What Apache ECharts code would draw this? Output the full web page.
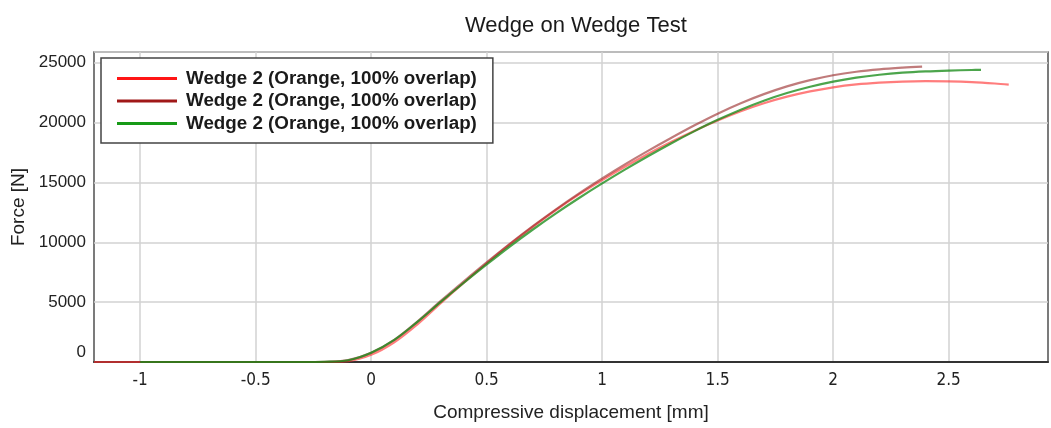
<!DOCTYPE html>
<html>
<head>
<meta charset="utf-8">
<script src="https://cdn.jsdelivr.net/npm/echarts@6/dist/echarts.min.js"></script>
<style>html,body{margin:0;padding:0;background:#fff}#c{width:1051px;height:428px}</style>
</head>
<body>
<div id="c"></div>
<script>
const seriesNames = ['Wedge 2 (Orange, 100% overlap)', 'Wedge 2 (Orange, 100% overlap)', 'Wedge 2 (Orange, 100% overlap)'];
const xTicks = [-1, -0.5, 0, 0.5, 1, 1.5, 2, 2.5];

const redX = [-1.2, -0.8, -0.4, -0.3, -0.2, -0.1, 0, 0.1, 0.2, 0.3, 0.4, 0.5, 0.6, 0.7, 0.8, 0.9, 1.0, 1.1, 1.2, 1.3, 1.4, 1.5, 1.6, 1.7, 1.8, 1.9, 2.0, 2.1, 2.2, 2.3, 2.4, 2.5, 2.6, 2.7, 2.76];
const redY = [0, 0, 0, 0, 0, 80, 600, 1650, 3150, 4900, 6600, 8250, 9820, 11300, 12700, 14000, 15200, 16330, 17400, 18400, 19330, 20180, 20950, 21620, 22170, 22610, 22950, 23190, 23340, 23430, 23460, 23440, 23380, 23270, 23180];

const brownX = [-1.0, -0.7, -0.4, -0.3, -0.2, -0.1, 0, 0.1, 0.2, 0.3, 0.4, 0.5, 0.6, 0.7, 0.8, 0.9, 1.0, 1.1, 1.2, 1.3, 1.4, 1.5, 1.6, 1.7, 1.8, 1.9, 2.0, 2.1, 2.2, 2.3, 2.385];
const brownY = [0, 0, 0, 0, 20, 150, 770, 1850, 3380, 5080, 6720, 8320, 9870, 11350, 12760, 14090, 15340, 16530, 17660, 18740, 19780, 20750, 21620, 22380, 23030, 23550, 23960, 24250, 24450, 24590, 24680];

const greenX = [-1.0, -0.7, -0.4, -0.3, -0.2, -0.1, 0, 0.1, 0.2, 0.3, 0.4, 0.5, 0.6, 0.7, 0.8, 0.9, 1.0, 1.1, 1.2, 1.3, 1.4, 1.5, 1.6, 1.7, 1.8, 1.9, 2.0, 2.1, 2.2, 2.3, 2.4, 2.5, 2.6, 2.64];
const greenY = [0, 0, 0, 0, 20, 150, 780, 1850, 3350, 5000, 6600, 8150, 9650, 11070, 12420, 13700, 14920, 16090, 17210, 18280, 19290, 20230, 21080, 21830, 22470, 23000, 23430, 23760, 24000, 24170, 24280, 24350, 24395, 24405];

function pairs(xs, ys) { return xs.map((x, i) => [x, ys[i]]); }

// distinct internal keys so the legend lists all three identical labels
const keys = seriesNames.map((n, i) => n + '\u200b'.repeat(i));
const lineColors = ['rgba(255,45,45,0.62)', 'rgba(150,35,35,0.6)', 'rgba(25,140,25,0.78)'];
const legendColors = ['#ff1515', '#a01818', '#179a17'];
const dataSets = [pairs(redX, redY), pairs(brownX, brownY), pairs(greenX, greenY)];

const chart = echarts.init(document.getElementById('c'));
chart.setOption({
  animation: false,
  backgroundColor: '#fff',
  title: {
    text: 'Wedge on Wedge Test',
    left: 460, top: 10,
    textStyle: { fontFamily: 'Liberation Sans, Arial, sans-serif', fontSize: 22, fontWeight: 'normal', color: '#1a1a1a' }
  },
  grid: { left: 94, right: 3, top: 52, bottom: 66, show: true, borderColor: '#505050', borderWidth: 1.5, backgroundColor: 'transparent' },
  legend: {
    orient: 'vertical', left: 101, top: 58,
    padding: [11, 16, 10, 16], itemGap: 3.5,
    itemWidth: 60, itemHeight: 3, icon: 'rect',
    backgroundColor: '#fff', borderColor: '#444', borderWidth: 1.5, borderRadius: 0,
    selectedMode: false,
    textStyle: { fontFamily: 'Liberation Sans, Arial, sans-serif', fontSize: 18.8, fontWeight: 'bold', color: '#1a1a1a', lineHeight: 17, padding: [0, 0, 0, 4] },
    formatter: n => n.replace(/\u200b/g, ''),
    data: keys.map((k, i) => ({ name: k, itemStyle: { color: legendColors[i] } }))
  },
  xAxis: {
    type: 'value', min: -1.2, max: 2.93,
    name: 'Compressive displacement [mm]', nameLocation: 'middle', nameGap: 41,
    nameTextStyle: { fontFamily: 'Liberation Sans, Arial, sans-serif', fontSize: 19, color: '#222' },
    axisLine: { show: true, onZero: false, lineStyle: { color: '#333', width: 2 } },
    axisTick: { show: false, customValues: xTicks },
    axisLabel: { customValues: xTicks, margin: 10, fontFamily: 'Liberation Sans Narrow, DejaVu Sans Condensed, Arial, sans-serif', fontSize: 17, color: '#222' },
    splitLine: { show: true, lineStyle: { color: '#d2d2d2', width: 1.5 } }
  },
  yAxis: {
    type: 'value', min: 0, max: 25900, interval: 5000,
    name: 'Force [N]', nameLocation: 'middle', nameGap: 64,
    nameTextStyle: { fontFamily: 'Liberation Sans, Arial, sans-serif', fontSize: 19, color: '#222' },
    axisLine: { show: false },
    axisTick: { show: false },
    axisLabel: {
      showMaxLabel: false, margin: 8,
      fontFamily: 'Liberation Sans, Arial, sans-serif', fontSize: 17, color: '#222',
      formatter: v => v === 0 ? '{z|0}' : String(v),
      rich: { z: { fontFamily: 'Liberation Sans, Arial, sans-serif', fontSize: 17, color: '#222', padding: [0, 0, 20, 0] } }
    },
    splitLine: { show: true, lineStyle: { color: '#d2d2d2', width: 1.5 } }
  },
  series: keys.map((k, i) => ({
    name: k, type: 'line', showSymbol: false, smooth: 0.35,
    data: dataSets[i],
    lineStyle: { color: lineColors[i], width: 2.2 },
    itemStyle: { color: legendColors[i] },
    emphasis: { disabled: true }, silent: true
  }))
});
</script>
</body>
</html>
